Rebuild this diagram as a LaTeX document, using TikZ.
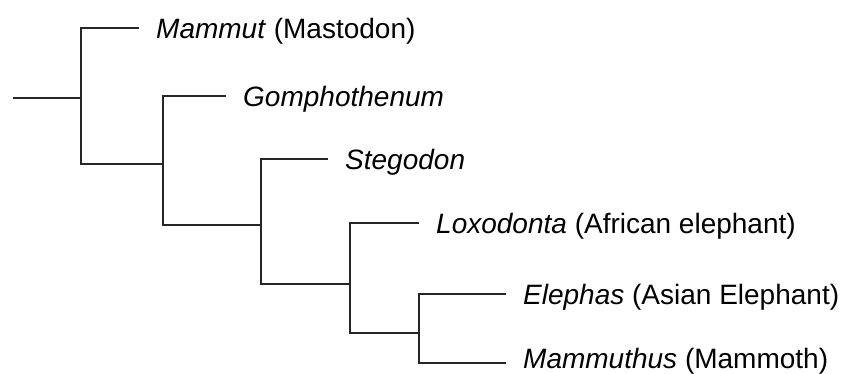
\documentclass[tikz,border=0pt]{standalone}
\usepackage{fontspec}
\setmainfont{Liberation Sans}
\usetikzlibrary{positioning}

\begin{document}
\begin{tikzpicture}[
  x=1pt, y=-1pt,
  br/.style={line width=1.8pt, black!85},
  taxon/.style={anchor=west, inner xsep=17pt, inner ysep=0pt,
    text height=20pt, text depth=0pt, font=\fontsize{28}{32}\selectfont},
]
\useasboundingbox (0,0) rectangle (853,373);

% ====== Inner nodes ======
\coordinate (root) at (13,98);
\coordinate (n1) at (81,98);
\coordinate (n2) at (163,164);
\coordinate (n3) at (261,225);
\coordinate (n4) at (350,284);
\coordinate (n5) at (419,333);

% ====== Taxa ======
\node[taxon] (mammut) at (139,28) {\textit{Mammut} (Mastodon)};
\node[taxon] (gomph)  at (226,96) {\textit{Gomphothenum}};
\node[taxon] (steg)   at (328,159) {\textit{Stegodon}};
\node[taxon] (loxo)   at (419,223) {\textit{Loxodonta} (African elephant)};
\node[taxon] (eleph)  at (506,294) {\textit{Elephas} (Asian Elephant)};
\node[taxon, text depth=10pt] (mamm) at (506,363) {\textit{Mammuthus} (Mammoth)};

% ====== Branches ======
\draw[br] (root) -- (n1);
\draw[br] (n1) |- (mammut.west);
\draw[br] (n1) |- (n2);
\draw[br] (n2) |- (gomph.west);
\draw[br] (n2) |- (n3);
\draw[br] (n3) |- (steg.west);
\draw[br] (n3) |- (n4);
\draw[br] (n4) |- (loxo.west);
\draw[br] (n4) |- (n5);
\draw[br] (n5) |- (eleph.west);
\draw[br] (n5) |- (mamm.west);

\end{tikzpicture}
\end{document}
